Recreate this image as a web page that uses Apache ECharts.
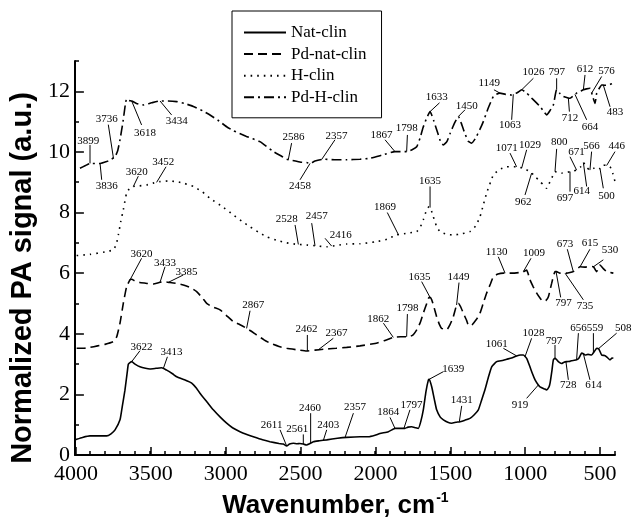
<!DOCTYPE html>
<html>
<head>
<meta charset="utf-8">
<script src="https://cdn.jsdelivr.net/npm/echarts@6/dist/echarts.min.js"></script>
<style>
  html, body { margin: 0; padding: 0; background: #fff; }
  #chart { width: 632px; height: 525px; }
</style>
</head>
<body>
<div id="chart"></div>
<script>
// Photoacoustic spectra of the four clinoptilolite samples: [wavenumber, signal]
const seriesNames = ['Nat-clin', 'Pd-nat-clin', 'H-clin', 'Pd-H-clin'];

const natClin = [
  [4000,0.50],[3989,0.52],[3950,0.58],[3900,0.63],[3850,0.63],[3789,0.63],[3760,0.70],[3733,0.83],
  [3700,1.16],[3685,1.60],[3667,2.14],[3650,2.80],[3644,3.00],[3622,3.08],[3600,3.00],[3567,2.91],
  [3530,2.86],[3500,2.84],[3460,2.86],[3422,2.88],[3389,2.80],[3350,2.68],[3322,2.58],[3270,2.48],
  [3222,2.37],[3190,2.20],[3167,2.04],[3120,1.75],[3078,1.49],[3030,1.24],[2989,1.05],[2950,0.90],
  [2900,0.77],[2850,0.67],[2811,0.60],[2750,0.50],[2700,0.44],[2640,0.38],[2611,0.36],[2589,0.30],
  [2570,0.36],[2544,0.39],[2520,0.37],[2500,0.38],[2478,0.36],[2456,0.33],[2440,0.36],[2411,0.44],
  [2370,0.47],[2322,0.50],[2250,0.55],[2189,0.58],[2100,0.60],[2044,0.60],[2000,0.65],[1967,0.71],
  [1911,0.77],[1880,0.85],[1867,0.88],[1830,0.88],[1800,0.88],[1780,0.92],[1756,0.93],[1730,0.90],
  [1711,0.88],[1695,1.10],[1678,1.49],[1660,2.10],[1644,2.48],[1638,2.50],[1622,2.25],[1605,1.85],
  [1589,1.49],[1565,1.25],[1544,1.16],[1515,1.08],[1489,1.05],[1460,1.08],[1433,1.10],[1400,1.15],
  [1367,1.21],[1340,1.32],[1311,1.49],[1290,1.80],[1267,2.15],[1245,2.55],[1222,2.91],[1189,3.08],
  [1150,3.12],[1122,3.16],[1090,3.20],[1056,3.27],[1030,3.30],[1011,3.30],[989,3.19],[967,2.91],
  [950,2.68],[933,2.48],[911,2.31],[900,2.25],[870,2.18],[856,2.15],[840,2.25],[833,2.37],
  [820,2.80],[811,3.14],[800,3.19],[790,3.15],[778,3.08],[756,3.02],[740,3.06],[722,3.08],
  [700,3.09],[680,3.12],[656,3.14],[640,3.20],[622,3.36],[611,3.34],[600,3.30],[580,3.32],
  [556,3.30],[540,3.40],[522,3.52],[508,3.50],[489,3.30],[470,3.28],[456,3.24],[433,3.14],
  [420,3.20],[411,3.19]
];

const pdNatClin = [
  [3989,3.52],[3944,3.52],[3900,3.55],[3850,3.60],[3800,3.65],[3744,3.74],[3722,3.90],[3700,4.35],
  [3678,5.00],[3656,5.55],[3633,5.78],[3622,5.80],[3600,5.74],[3567,5.69],[3520,5.66],[3478,5.64],
  [3433,5.70],[3400,5.71],[3367,5.69],[3320,5.66],[3278,5.61],[3230,5.52],[3189,5.39],[3150,5.18],
  [3122,5.00],[3080,4.88],[3033,4.79],[2990,4.60],[2944,4.40],[2900,4.30],[2867,4.21],[2830,4.10],
  [2789,3.96],[2740,3.80],[2700,3.69],[2640,3.58],[2589,3.52],[2520,3.47],[2456,3.43],[2400,3.46],
  [2344,3.49],[2260,3.52],[2189,3.55],[2100,3.60],[2000,3.68],[1940,3.77],[1878,3.88],[1830,3.90],
  [1789,3.90],[1750,3.95],[1722,4.13],[1700,4.35],[1678,4.68],[1655,5.00],[1644,5.17],[1633,5.20],
  [1622,5.12],[1605,4.85],[1589,4.56],[1570,4.30],[1556,4.18],[1522,4.13],[1500,4.30],[1478,4.56],
  [1456,4.95],[1444,5.00],[1430,4.90],[1411,4.68],[1390,4.45],[1378,4.29],[1355,4.28],[1344,4.35],
  [1320,4.50],[1300,4.68],[1280,4.98],[1256,5.34],[1230,5.65],[1211,5.88],[1180,5.97],[1144,6.00],
  [1089,6.00],[1040,6.02],[1011,6.05],[989,6.10],[967,5.78],[945,5.55],[922,5.34],[900,5.18],
  [878,5.06],[860,5.10],[844,5.22],[822,5.67],[800,6.05],[790,6.05],[767,6.00],[722,6.00],
  [700,6.02],[678,6.05],[655,6.12],[633,6.21],[600,6.20],[570,6.22],[544,6.21],[530,6.10],
  [522,6.05],[500,6.27],[478,6.15],[456,6.05],[430,6.02],[411,6.00]
];

const hClin = [
  [3989,6.58],[3900,6.62],[3800,6.70],[3744,6.77],[3725,6.95],[3711,7.26],[3695,7.70],[3678,8.09],
  [3656,8.64],[3633,8.82],[3611,8.86],[3570,8.88],[3522,8.91],[3480,8.97],[3433,9.02],[3380,9.04],
  [3322,9.02],[3270,8.96],[3211,8.86],[3150,8.68],[3100,8.47],[3020,8.20],[2944,7.92],[2890,7.72],
  [2833,7.53],[2780,7.36],[2722,7.20],[2650,7.08],[2589,7.00],[2520,6.95],[2456,6.93],[2390,6.90],
  [2322,6.87],[2250,6.92],[2189,6.96],[2100,6.97],[2000,7.03],[1920,7.12],[1856,7.26],[1780,7.32],
  [1722,7.37],[1700,7.50],[1678,7.76],[1655,8.10],[1640,8.19],[1630,8.15],[1611,7.86],[1590,7.55],
  [1567,7.37],[1520,7.28],[1478,7.26],[1420,7.30],[1367,7.37],[1330,7.55],[1300,7.86],[1278,8.25],
  [1256,8.64],[1230,9.00],[1211,9.24],[1170,9.42],[1122,9.51],[1056,9.51],[1011,9.46],[967,9.35],
  [930,9.18],[900,9.02],[875,8.90],[856,8.80],[840,8.95],[822,9.13],[800,9.35],[780,9.33],
  [756,9.30],[720,9.32],[700,9.35],[680,9.37],[656,9.40],[630,9.50],[611,9.65],[590,9.50],
  [567,9.40],[545,9.45],[522,9.51],[500,9.45],[478,9.57],[456,9.55],[433,9.51],[415,9.30],[400,9.02]
];

const pdHClin = [
  [3967,9.46],[3930,9.55],[3900,9.62],[3860,9.62],[3833,9.62],[3789,9.68],[3760,9.75],[3733,9.84],
  [3715,10.05],[3700,10.40],[3680,11.00],[3665,11.55],[3656,11.75],[3640,11.70],[3622,11.68],[3590,11.60],
  [3544,11.55],[3490,11.62],[3433,11.68],[3380,11.68],[3322,11.66],[3270,11.60],[3211,11.50],[3150,11.36],
  [3100,11.22],[3040,11.02],[2989,10.83],[2944,10.70],[2860,10.52],[2767,10.34],[2680,10.02],[2620,9.85],
  [2589,9.76],[2530,9.70],[2490,9.66],[2456,9.65],[2433,9.62],[2400,9.70],[2344,9.76],[2260,9.74],
  [2189,9.74],[2100,9.76],[2033,9.79],[1950,9.90],[1867,10.01],[1789,10.01],[1750,10.08],[1722,10.17],
  [1700,10.45],[1680,10.80],[1656,11.11],[1633,11.33],[1610,11.05],[1580,10.60],[1560,10.30],[1544,10.23],
  [1520,10.35],[1500,10.60],[1470,10.95],[1444,11.17],[1425,10.95],[1400,10.60],[1378,10.35],[1356,10.29],
  [1330,10.45],[1300,10.75],[1278,11.00],[1245,11.45],[1211,11.83],[1190,11.90],[1167,11.94],[1130,11.90],
  [1089,11.88],[1050,11.96],[1022,12.05],[990,11.95],[967,11.83],[930,11.65],[900,11.50],[870,11.30],
  [856,11.22],[835,11.35],[811,11.55],[789,12.05],[765,11.92],[744,11.83],[711,11.78],[700,11.77],
  [667,11.90],[656,11.94],[630,12.00],[611,12.05],[590,12.08],[567,12.10],[550,11.85],[533,11.60],
  [522,11.94],[505,12.10],[489,12.21],[470,12.20],[444,12.21],[411,12.27]
];

// Band labels: [text, wavenumber where the leader meets the curve,
//               leader end (wavenumber, signal), label centre (wavenumber, signal)]
const natClinBands = [
  ['3622',3622, 3567,3.44, 3556,3.55], ['3413',3411, 3384,3.24, 3356,3.41],
  ['2611',2589, 2633,0.83, 2689,0.99], ['2561',2478, 2478,0.68, 2518,0.85],
  ['2460',2429, 2429,1.38, 2433,1.54], ['2403',2344, 2322,0.83, 2311,0.99],
  ['2357',2200, 2144,1.38, 2133,1.57], ['1864',1867, 1900,1.24, 1911,1.43],
  ['1797',1807, 1767,1.49, 1756,1.65], ['1639',1638, 1544,2.75, 1478,2.83],
  ['1431',1438, 1422,1.62, 1422,1.82], ['1061',1056, 1144,3.52, 1189,3.66],
  ['1028',1000, 956,3.85, 944,4.02],   ['797',800, 800,3.63, 807,3.77],
  ['919',911, 989,1.87, 1033,1.65],    ['728',727, 711,2.48, 711,2.31],
  ['656',656, 644,4.02, 644,4.18],     ['559',544, 544,4.02, 533,4.18],
  ['508',511, 389,4.02, 345,4.18],     ['614',611, 567,2.48, 544,2.31]
];
const pdNatClinBands = [
  ['3620',3633, 3556,6.49, 3556,6.63], ['3433',3433, 3400,6.21, 3400,6.33],
  ['3385',3378, 3278,5.94, 3256,6.05], ['2867',2856, 2833,4.76, 2811,4.95],
  ['2462',2451, 2451,3.96, 2456,4.15], ['2367',2378, 2278,3.85, 2256,4.02],
  ['1862',1878, 1944,4.35, 1978,4.48], ['1798',1789, 1784,4.65, 1784,4.84],
  ['1635',1633, 1689,5.72, 1704,5.86], ['1449',1456, 1440,5.69, 1444,5.86],
  ['1130',1133, 1178,6.54, 1189,6.71], ['1009',1011, 960,6.49, 940,6.66],
  ['797',793, 762,5.20, 744,5.00],     ['735',733, 611,5.12, 600,4.92],
  ['673',678, 718,6.79, 733,6.96],     ['615',633, 567,6.79, 567,6.99],
  ['530',544, 478,6.44, 433,6.77]
];
const hClinBands = [
  ['3620',3611, 3578,9.20, 3589,9.35], ['3452',3456, 3393,9.51, 3411,9.66],
  ['2528',2511, 2533,7.59, 2589,7.78], ['2457',2400, 2422,7.65, 2389,7.89],
  ['2416',2289, 2333,7.15, 2228,7.26], ['1869',1844, 1918,8.00, 1933,8.17],
  ['1635',1633, 1633,8.86, 1633,9.05], ['1071',1056, 1100,9.96, 1122,10.12],
  ['1029',1022, 989,10.07, 967,10.23], ['962',956, 1000,8.58, 1011,8.36],
  ['800',800, 789,10.10, 772,10.34],   ['671',656, 700,9.84, 656,9.99],
  ['697',700, 700,8.69, 733,8.47],     ['614',611, 589,8.86, 622,8.72],
  ['566',567, 556,10.01, 556,10.20],   ['500',500, 478,8.80, 456,8.55],
  ['446',456, 400,10.01, 389,10.20]
];
const pdHClinBands = [
  ['3899',3900, 3900,10.23, 3911,10.37], ['3836',3833, 3822,9.08, 3789,8.86],
  ['3736',3744, 3778,10.90, 3789,11.08], ['3618',3622, 3556,10.89, 3533,10.61],
  ['3434',3433, 3356,11.22, 3322,11.03], ['2586',2578, 2556,10.29, 2544,10.50],
  ['2458',2433, 2500,9.08, 2500,8.86],   ['2357',2356, 2267,10.40, 2256,10.53],
  ['1867',1867, 1933,10.40, 1956,10.56], ['1798',1789, 1784,10.56, 1789,10.78],
  ['1633',1633, 1570,11.62, 1589,11.82], ['1450',1444, 1400,11.39, 1389,11.52],
  ['1149',1167, 1207,12.05, 1238,12.27], ['1063',1078, 1089,11.06, 1100,10.89],
  ['1026',1022, 944,12.43, 944,12.62],   ['797',789, 789,12.43, 789,12.62],
  ['712',711, 704,11.33, 700,11.11],     ['612',611, 600,12.54, 600,12.73],
  ['664',667, 589,11.06, 567,10.83],     ['576',556, 489,12.49, 456,12.65],
  ['483',478, 433,11.49, 400,11.30]
];

const xTickValues = [4000, 3500, 3000, 2500, 2000, 1500, 1000, 500];
const yTickValues = [0, 2, 4, 6, 8, 10, 12];

// signal of a curve at a given wavenumber (linear between recorded points)
function signalAt(curve, w) {
  for (let i = 0; i < curve.length - 1; i++) {
    const a = curve[i], b = curve[i + 1];
    if ((w <= a[0] && w >= b[0]) || (w >= a[0] && w <= b[0])) {
      const t = (w - a[0]) / (b[0] - a[0]);
      return a[1] + t * (b[1] - a[1]);
    }
  }
  return w > curve[0][0] ? curve[0][1] : curve[curve.length - 1][1];
}

const serifFont = '"Liberation Serif", "Times New Roman", serif';
const sansFont = '"Liberation Sans", Arial, sans-serif';

function bandSeries(curve, bands) {
  return {
    type: 'custom',
    coordinateSystem: 'cartesian2d',
    xAxisIndex: 0, yAxisIndex: 0,
    silent: true, clip: false, z: 5,
    data: bands.map(b => [b[1], signalAt(curve, b[1]), b[2], b[3], b[4], b[5]]),
    encode: { x: [0, 2, 4], y: [1, 3, 5] },
    renderItem: function (params, api) {
      const p0 = api.coord([api.value(0), api.value(1)]);
      const p1 = api.coord([api.value(2), api.value(3)]);
      const pt = api.coord([api.value(4), api.value(5)]);
      return {
        type: 'group',
        children: [
          { type: 'line', shape: { x1: p0[0], y1: p0[1], x2: p1[0], y2: p1[1] },
            style: { stroke: '#000', lineWidth: 1 } },
          { type: 'text', x: pt[0], y: pt[1],
            style: { text: bands[params.dataIndex][0], fill: '#000',
                     fontFamily: serifFont, fontSize: 11,
                     align: 'center', verticalAlign: 'middle' } }
        ]
      };
    }
  };
}

function spectrum(name, curve, dash) {
  return {
    type: 'line', name: name, data: curve,
    xAxisIndex: 0, yAxisIndex: 0,
    symbol: 'none', smooth: 0.15,
    lineStyle: { color: '#000', width: 1.6, type: dash },
    itemStyle: { color: '#000' },
    z: 3
  };
}

const gridBox = { left: 75, top: 61, width: 540, height: 394 };
const labelStyle = { color: '#000', fontFamily: serifFont, fontSize: 22,
                     formatter: v => String(v) };

const chart = echarts.init(document.getElementById('chart'));
chart.setOption({
  animation: false,
  backgroundColor: '#fff',
  grid: [Object.assign({}, gridBox), Object.assign({}, gridBox)],
  legend: {
    orient: 'vertical', left: 232, top: 11,
    data: seriesNames, selectedMode: false,
    itemWidth: 42, itemHeight: 14, itemGap: 4.6,
    padding: [13, 15, 12, 11],
    borderColor: '#000', borderWidth: 1,
    itemStyle: { color: 'rgba(0,0,0,0)', borderColor: 'rgba(0,0,0,0)', borderWidth: 0, opacity: 0 },
    textStyle: { color: '#000', fontFamily: serifFont, fontSize: 17 }
  },
  xAxis: [
    { // minor ticks every 100 cm-1
      gridIndex: 0, type: 'value', inverse: true, min: 400, max: 4000, interval: 100,
      axisLine: { lineStyle: { color: '#000', width: 2 } },
      axisTick: { inside: true, length: 4, lineStyle: { color: '#000', width: 1.5 } },
      axisLabel: { show: false }, splitLine: { show: false }
    },
    { // major ticks, labels and title
      gridIndex: 1, type: 'value', inverse: true, min: 400, max: 4000,
      axisLine: { show: false },
      axisTick: { inside: true, length: 8, customValues: xTickValues,
                  lineStyle: { color: '#000', width: 1.5 } },
      axisLabel: Object.assign({ customValues: xTickValues, margin: 8 }, labelStyle),
      splitLine: { show: false },
      name: '{t|Wavenumber, cm}{s|-1}', nameLocation: 'middle', nameGap: 36,
      nameTextStyle: {
        padding: [0, 20, 0, 0],
        rich: {
          t: { fontFamily: sansFont, fontWeight: 'bold', fontSize: 26, color: '#000' },
          s: { fontFamily: sansFont, fontWeight: 'bold', fontSize: 14, color: '#000',
               verticalAlign: 'top', padding: [0, 0, 16, 1] }
        }
      }
    }
  ],
  yAxis: [
    { // minor ticks every 1
      gridIndex: 0, type: 'value', min: 0, max: 13, interval: 1,
      axisLine: { lineStyle: { color: '#000', width: 2 } },
      axisTick: { inside: true, length: 4, lineStyle: { color: '#000', width: 1.5 } },
      axisLabel: { show: false }, splitLine: { show: false }
    },
    { // major ticks, labels and title
      gridIndex: 1, type: 'value', min: 0, max: 13,
      axisLine: { show: false },
      axisTick: { inside: true, length: 8, customValues: yTickValues,
                  lineStyle: { color: '#000', width: 1.5 } },
      axisLabel: Object.assign({ customValues: yTickValues, margin: 6 }, labelStyle),
      splitLine: { show: false },
      name: 'Normalized PA signal (a.u.)', nameLocation: 'middle', nameGap: 35,
      nameTextStyle: { fontFamily: sansFont, fontWeight: 'bold', fontSize: 29, color: '#000',
                       padding: [0, 40, 0, 0] }
    }
  ],
  series: [
    spectrum('Nat-clin', natClin, 'solid'),
    spectrum('Pd-nat-clin', pdNatClin, [9, 5]),
    spectrum('H-clin', hClin, [1.6, 5]),
    spectrum('Pd-H-clin', pdHClin, [10, 4, 2, 4]),
    bandSeries(natClin, natClinBands),
    bandSeries(pdNatClin, pdNatClinBands),
    bandSeries(hClin, hClinBands),
    bandSeries(pdHClin, pdHClinBands)
  ]
});
</script>
</body>
</html>
